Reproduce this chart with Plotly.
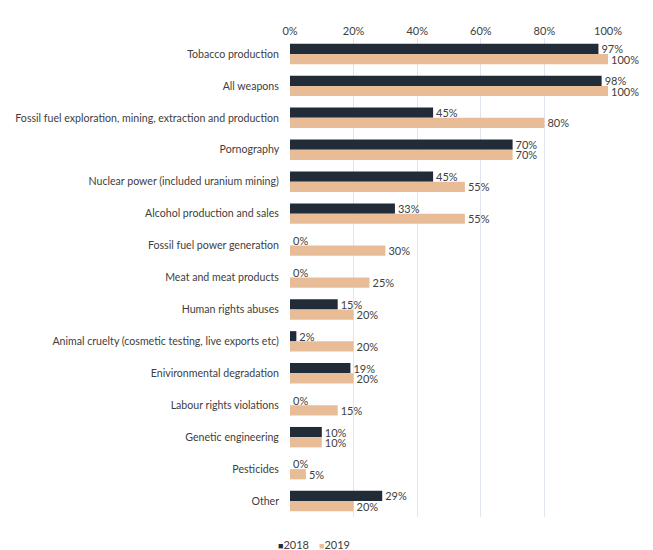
import plotly.graph_objects as go

categories = [
    "Tobacco production",
    "All weapons",
    "Fossil fuel exploration, mining, extraction and production",
    "Pornography",
    "Nuclear power (included uranium mining)",
    "Alcohol production and sales",
    "Fossil fuel power generation",
    "Meat and meat products",
    "Human rights abuses",
    "Animal cruelty (cosmetic testing, live exports etc)",
    "Enivironmental degradation",
    "Labour rights violations",
    "Genetic engineering",
    "Pesticides",
    "Other",
]
values_2018 = [97, 98, 45, 70, 45, 33, 0, 0, 15, 2, 19, 0, 10, 0, 29]
values_2019 = [100, 100, 80, 70, 55, 55, 30, 25, 20, 20, 20, 15, 10, 5, 20]
series = [("2018", values_2018, "#222b38"), ("2019", values_2019, "#e9bc98")]

FONT = "Lato, 'Open Sans', sans-serif"
TEXT_COLOR = "#404040"

fig = go.Figure()
for name, vals, color in series:
    fig.add_trace(go.Bar(
        name=name, y=categories, x=vals, orientation="h",
        marker=dict(color=color, line=dict(width=0)),
        text=[f"{v}%" for v in vals], textposition="outside",
        constraintext="none",
        textfont=dict(size=11, color=TEXT_COLOR, family=FONT),
        cliponaxis=False, showlegend=False,
    ))

# compact legend: small coloured squares directly followed by the series name
legend_x = [-0.045, 0.085]
for (name, _, color), lx in zip(series, legend_x):
    fig.add_annotation(
        xref="paper", yref="paper", x=lx, y=0, xanchor="left", yanchor="middle",
        yshift=-27, showarrow=False,
        text=f"<span style='color:{color}; font-size:9px'>■</span>{name}",
        font=dict(size=11, color=TEXT_COLOR, family=FONT),
    )

fig.update_layout(
    width=653, height=550,
    margin=dict(l=290, r=45, t=38, b=33),
    barmode="group", bargap=0.36, bargroupgap=0,
    plot_bgcolor="white", paper_bgcolor="white",
    font=dict(family=FONT, size=11, color=TEXT_COLOR),
    showlegend=False,
    xaxis=dict(
        side="top", range=[0, 100], dtick=20, ticksuffix="%",
        showgrid=True, gridcolor="#dfe5ee", gridwidth=1,
        zeroline=False, showline=False, ticks="",
        tickfont=dict(size=11, color=TEXT_COLOR),
    ),
    yaxis=dict(
        autorange="reversed", showgrid=False, ticks="", showline=False,
        ticksuffix="   ", ticklabelstandoff=2,
        tickfont=dict(size=10.6, color=TEXT_COLOR),
    ),
)

fig.write_html("out.html")
